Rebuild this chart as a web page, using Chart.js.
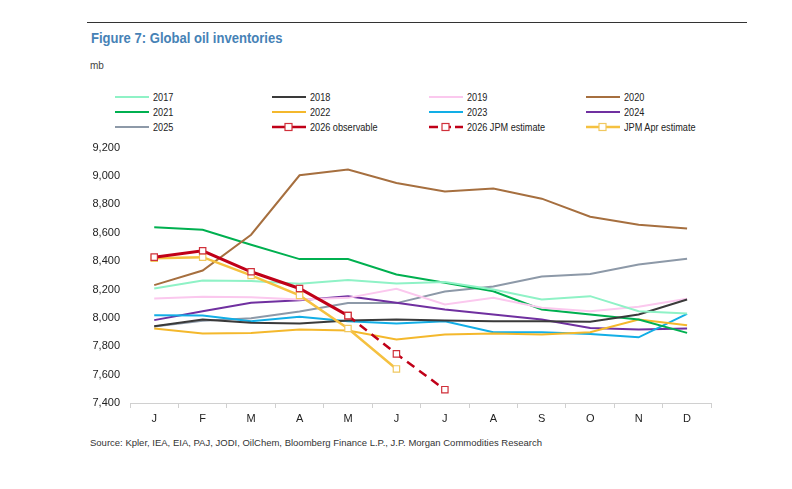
<!DOCTYPE html>
<html>
<head>
<meta charset="utf-8">
<script src="https://cdn.jsdelivr.net/npm/chart.js@4/dist/chart.umd.min.js"></script>
<style>
  body { margin: 0; background: #fff; font-family: "Liberation Sans", Arial, sans-serif; }
  #page { position: relative; width: 792px; height: 489px; overflow: hidden; }
  #rule { position: absolute; left: 87px; top: 22px; width: 660px; height: 1px; background: #333; }
  #title { position: absolute; left: 91px; top: 29px; font-size: 15px; font-weight: bold; color: #4682b6;
           transform: scaleX(0.87); transform-origin: left top; white-space: nowrap; }
  #unit { position: absolute; left: 90px; top: 60px; font-size: 10px; color: #444; }
  #legend { position: absolute; left: 115px; top: 90px; }
  .item { position: absolute; height: 14px; display: flex; align-items: center;
          font-size: 11px; color: #222; white-space: nowrap; }
  .item svg { margin-right: 4px; }
  .item span { display: inline-block; transform: scaleX(0.83); transform-origin: left center; }
  #wrap { position: absolute; left: 80px; top: 131px; width: 637px; height: 302px; }
  #source { position: absolute; left: 90px; top: 437px; font-size: 9.5px; color: #333; }
</style>
</head>
<body>
<div id="page">
  <div id="rule"></div>
  <div id="title">Figure 7: Global oil inventories</div>
  <div id="unit">mb</div>
  <div id="legend"></div>
  <div id="wrap"><canvas id="grafico"></canvas></div>
  <div id="source">Source: Kpler, IEA, EIA, PAJ, JODI, OilChem, Bloomberg Finance L.P., J.P. Morgan Commodities Research</div>
</div>
<script>
// meses
var meses = ['J', 'F', 'M', 'A', 'M', 'J', 'J', 'A', 'S', 'O', 'N', 'D'];

// valores (mb)
var y2017 = [8207, 8264, 8259, 8240, 8266, 8242, 8252, 8200, 8129, 8153, 8047, 8031];
var y2018 = [7941, 7988, 7965, 7960, 7981, 7988, 7981, 7976, 7976, 7972, 8024, 8129];
var y2019 = [8136, 8148, 8146, 8129, 8141, 8205, 8094, 8141, 8071, 8047, 8078, 8134];
var y2020 = [8231, 8334, 8586, 9005, 9045, 8951, 8890, 8911, 8840, 8713, 8657, 8630];
var y2021 = [8638, 8621, 8515, 8414, 8414, 8306, 8247, 8188, 8059, 8024, 7988, 7894];
var y2022 = [7925, 7889, 7894, 7918, 7911, 7847, 7882, 7889, 7882, 7899, 7988, 7948];
var y2023 = [8019, 8016, 7976, 8007, 7976, 7960, 7976, 7899, 7899, 7887, 7863, 8028];
var y2024 = [7984, 8047, 8106, 8125, 8153, 8106, 8059, 8024, 7988, 7929, 7918, 7925];
var y2025 = [7939, 7979, 7998, 8045, 8104, 8104, 8186, 8221, 8292, 8309, 8376, 8417];
var obs2026 = [8428, 8473, 8325, 8207, 8016, null, null, null, null, null, null, null];
var est2026 = [null, null, null, null, 8016, 7746, 7494, null, null, null, null, null];
var aprEst = [8421, 8428, 8299, 8158, 7925, 7640, null, null, null, null, null, null];

var yTicks = [7400, 7600, 7800, 8000, 8200, 8400, 8600, 8800, 9000, 9200];

function linha(label, data, cor, extra) {
    var ds = {
        label: label,
        data: data,
        borderColor: cor,
        backgroundColor: cor,
        borderWidth: 2,
        pointRadius: 0,
        tension: 0,
        spanGaps: false
    };
    for (var k in extra) ds[k] = extra[k];
    return ds;
}

var quadrado = { pointStyle: 'rect', pointRadius: 4.5, pointBackgroundColor: '#fff', pointBorderWidth: 1.2 };

var datasets = [
    linha('2017', y2017, '#8ff2c6'),
    linha('2018', y2018, '#3a3a3a'),
    linha('2019', y2019, '#fbc8ee'),
    linha('2020', y2020, '#a66f3f'),
    linha('2021', y2021, '#00b050'),
    linha('2022', y2022, '#f4b82c'),
    linha('2023', y2023, '#12aee6'),
    linha('2024', y2024, '#7030a0'),
    linha('2025', y2025, '#8d99a8'),
    linha('2026 observable', obs2026, '#c00018', Object.assign({ borderWidth: 3, order: -3, pointBorderColor: '#d0303a' }, quadrado)),
    linha('2026 JPM estimate', est2026, '#c00018', Object.assign({ borderWidth: 2.5, borderDash: [9, 6], order: -2, pointBorderColor: '#d0303a' }, quadrado)),
    linha('JPM Apr estimate', aprEst, '#f5c140', Object.assign({ borderWidth: 2.5, order: -1, pointBorderColor: '#f0c860' }, quadrado))
];

// legenda em 4 colunas
var legenda = document.getElementById('legend');
datasets.forEach(function(ds, i) {
    var col = i % 4, row = Math.floor(i / 4);
    var div = document.createElement('div');
    div.className = 'item';
    div.style.left = (col * 157) + 'px';
    div.style.top = (row * 15) + 'px';
    var dash = ds.borderDash ? ' stroke-dasharray="9,4"' : '';
    var svg = '<svg width="34" height="10"><line x1="0" y1="5" x2="34" y2="5" stroke="' + ds.borderColor +
        '" stroke-width="' + (ds.borderWidth >= 2.5 ? 2.5 : 2) + '"' + dash + '/>';
    if (ds.pointStyle) {
        svg += '<rect x="13" y="1.5" width="7" height="7" fill="#fff" stroke="' + ds.pointBorderColor + '" stroke-width="1.2"/>';
    }
    svg += '</svg>';
    div.innerHTML = svg + '<span>' + ds.label + '</span>';
    legenda.appendChild(div);
});

var ctx = document.getElementById('grafico').getContext('2d');
window.grafico = new Chart(ctx, {
    type: 'line',
    data: { labels: meses, datasets: datasets },
    options: {
        responsive: true,
        maintainAspectRatio: false,
        animation: false,
        layout: { padding: { top: 2, right: 0, bottom: 0, left: 0 } },
        plugins: { legend: { display: false }, tooltip: { enabled: false } },
        scales: {
            x: {
                offset: true,
                grid: { offset: true, drawOnChartArea: false, drawTicks: true, tickLength: 5, color: '#d0d0d0' },
                border: { display: true, color: '#d0d0d0' },
                ticks: { color: '#222', font: { family: 'Liberation Sans', size: 11 }, padding: 4, maxRotation: 0 },
                afterFit: function(s) { s.height = 30; }
            },
            y: {
                min: 7400,
                max: 9200,
                afterBuildTicks: function(s) { s.ticks = yTicks.map(function(v) { return { value: v }; }); },
                grid: { display: false, drawTicks: false },
                border: { display: false },
                ticks: {
                    color: '#222',
                    font: { family: 'Liberation Sans', size: 11 },
                    padding: 10,
                    callback: function(v) { return Number(v).toLocaleString('en-US'); }
                },
                afterFit: function(s) { s.width = 50; }
            }
        }
    }
});
</script>
</body>
</html>
